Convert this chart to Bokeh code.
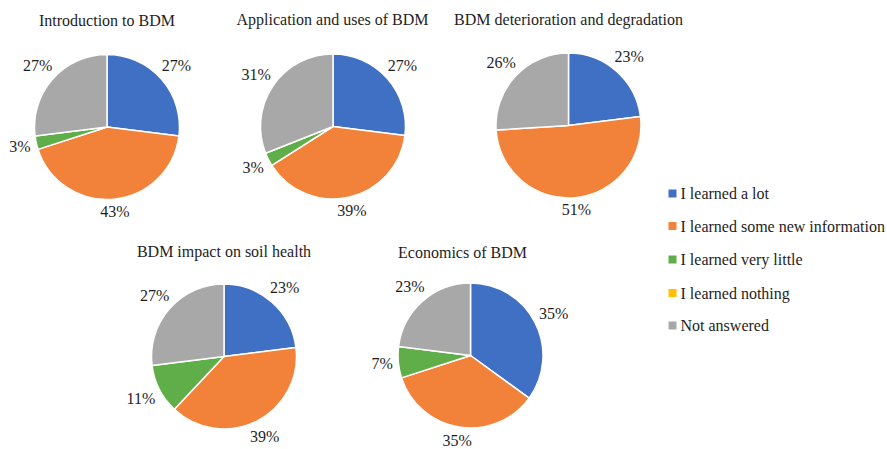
import math
from bokeh.plotting import figure
from bokeh.models import ColumnDataSource, Range1d
from bokeh.core.properties import value
from bokeh.embed import file_html
from bokeh.resources import INLINE

# ---- data ----
categories = ["I learned a lot", "I learned some new information",
              "I learned very little", "I learned nothing", "Not answered"]
colors = ["#4070C4", "#F2813A", "#5FAE49", "#FFC000", "#A8A8A8"]
titles = ["Introduction to BDM", "Application and uses of BDM",
          "BDM deterioration and degradation", "BDM impact on soil health",
          "Economics of BDM"]
intro = [27, 43, 3, 0, 27]
application = [27, 39, 3, 0, 31]
deterioration = [23, 51, 0, 0, 26]
soil_health = [23, 39, 11, 0, 27]
economics = [35, 35, 7, 0, 23]
series = [intro, application, deterioration, soil_health, economics]

# ---- layout (pixels from top-left) ----
W, H = 887, 449
centers = [(106.5, 126.5), (332.5, 126), (568, 125), (223.5, 356), (470, 355)]
title_pos = [(106.5, 20), (332, 19), (568, 19), (223.5, 251), (462, 252)]
R = 72.5
FONT = "'Liberation Serif', 'Times New Roman', serif"
FS = 16
TEXT_COLOR = "#1E1E1E"

p = figure(width=W, height=H, x_range=Range1d(0, W), y_range=Range1d(0, H),
           output_backend="svg", toolbar_location=None, min_border=0,
           x_axis_location=None, y_axis_location=None, outline_line_color=None)
p.xgrid.visible = False
p.ygrid.visible = False
p.background_fill_color = "white"

wx, wy, ws, we, wc = [], [], [], [], []
lx, ly, lt = [], [], []
for vals, (cx, cy) in zip(series, centers):
    total = float(sum(vals))
    cum = 0.0
    ycen = H - cy
    for v, col in zip(vals, colors):
        if v <= 0:
            continue
        f0 = cum / total
        f1 = (cum + v) / total
        cum += v
        wx.append(cx)
        wy.append(ycen)
        ws.append(math.pi / 2 - 2 * math.pi * f1)
        we.append(math.pi / 2 - 2 * math.pi * f0)
        wc.append(col)
        # label at outside end
        txt = f"{v}%"
        mid = 2 * math.pi * (f0 + f1) / 2  # clockwise from top
        half_w = FS * (0.5 * (len(txt) - 1) + 0.833) / 2
        half_h = 6
        r = R + 5 + half_w * abs(math.sin(mid)) + half_h * abs(math.cos(mid))
        lx.append(cx + r * math.sin(mid))
        ly.append(ycen + r * math.cos(mid))
        lt.append(txt)

p.wedge(x="x", y="y", radius=R, start_angle="s", end_angle="e",
        fill_color="c", line_color="white", line_width=1.5,
        source=ColumnDataSource(dict(x=wx, y=wy, s=ws, e=we, c=wc)))

p.text(x="x", y="y", text="t", source=ColumnDataSource(dict(x=lx, y=ly, t=lt)),
       text_font=value(FONT), text_font_size=f"{FS}px", text_color=TEXT_COLOR,
       text_align="center", text_baseline="middle")

p.text(x=[t[0] for t in title_pos], y=[H - t[1] for t in title_pos], text=titles,
       text_font=value(FONT), text_font_size=f"{FS}px", text_color=TEXT_COLOR,
       text_align="center", text_baseline="middle")

# legend
leg_x = 672
leg_y = [193, 225.5, 259, 292.5, 325]
p.scatter(x=[leg_x] * len(categories), y=[H - y for y in leg_y], marker="square",
          size=8, fill_color=colors, line_color=None)
p.text(x=[leg_x + 8] * len(categories), y=[H - y for y in leg_y], text=categories,
       text_font=value(FONT), text_font_size=f"{FS}px", text_color=TEXT_COLOR,
       text_align="left", text_baseline="middle")

open("out.html", "w").write(file_html(p, INLINE))
